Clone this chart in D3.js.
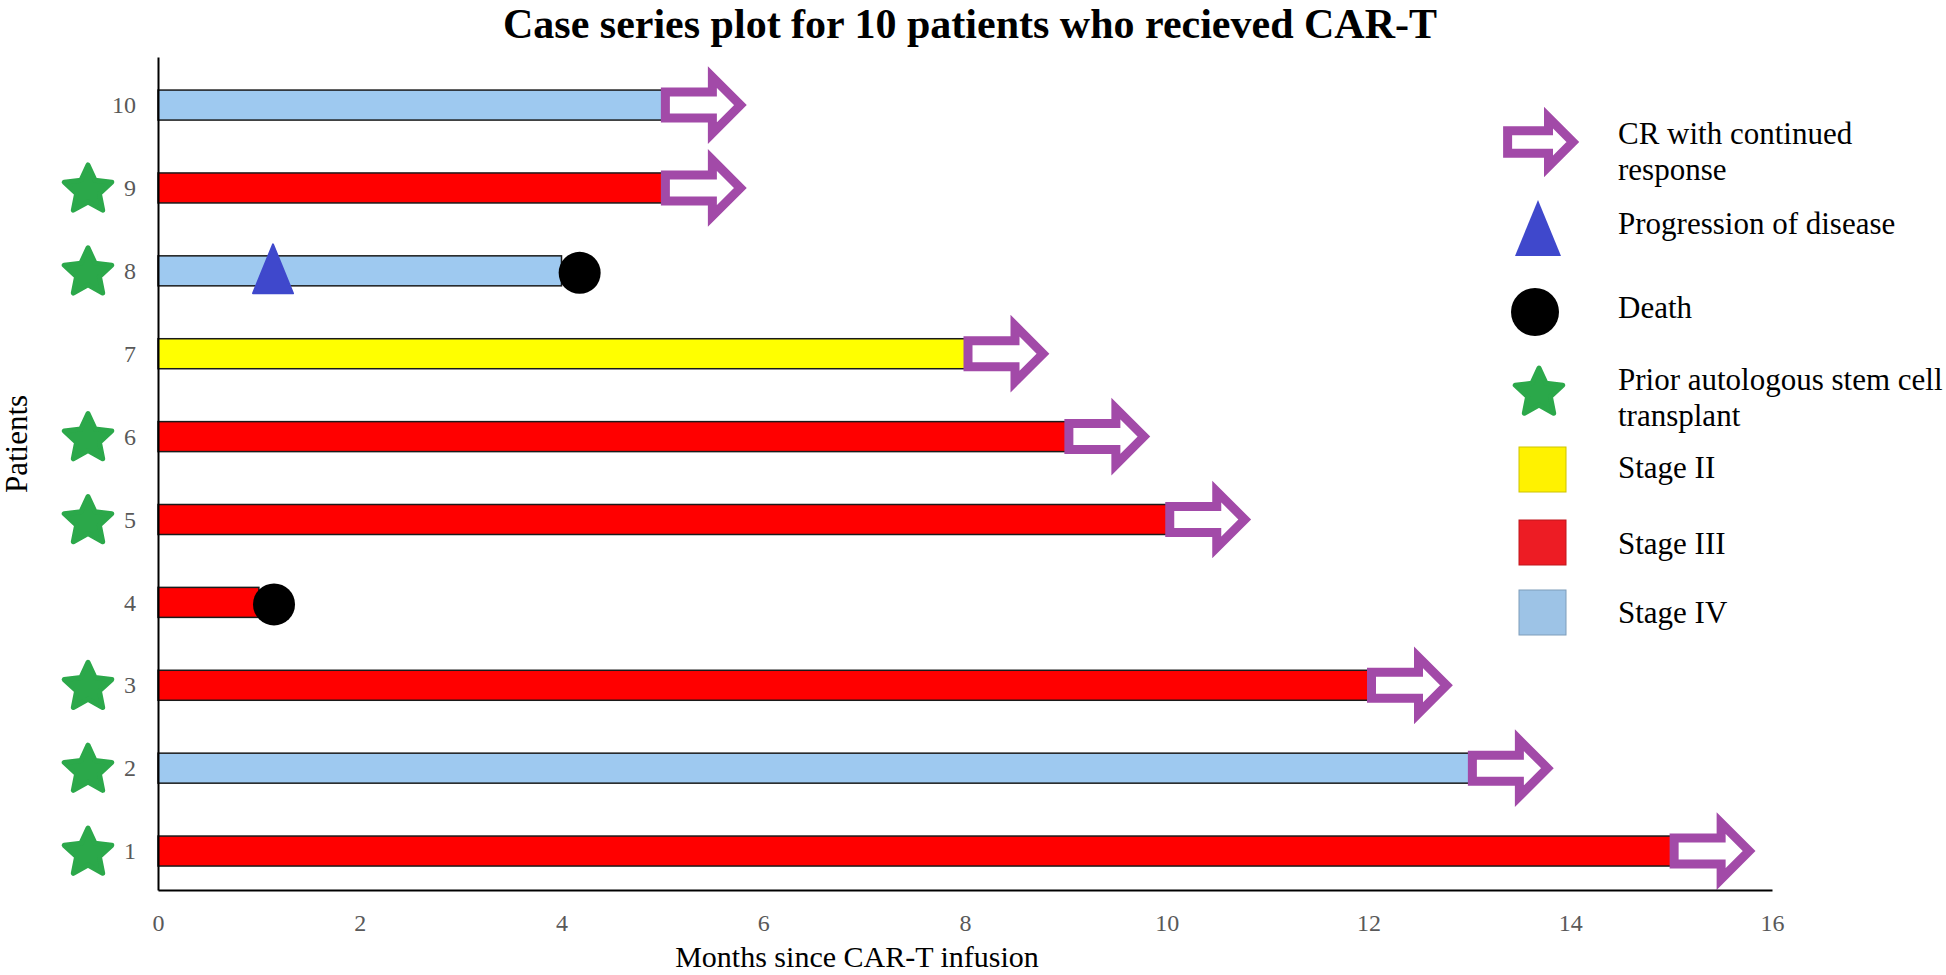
<!DOCTYPE html>
<html>
<head>
<meta charset="UTF-8" />
<script src="https://cdn.jsdelivr.net/npm/d3@7"></script>
<title>Case series plot</title>
<style>
    body { margin: 0; background: white; }
    svg { display: block; font-family: "Liberation Serif", "Times New Roman", serif; }
</style>
</head>
<body>
<div id="chart"></div>
<script>
// data, patient 1 first
const patients = [1, 2, 3, 4, 5, 6, 7, 8, 9, 10];
const months = [15, 13, 12, 1, 10, 9, 8, 4, 5, 5];
const stages = ["III", "IV", "III", "III", "III", "III", "II", "IV", "III", "IV"];
const continuedCR = [true, true, true, false, true, true, true, false, true, true];
const priorASCT = [true, true, true, false, true, true, false, true, true, false];
const deathPatients = [4, 8];
const deathMonths = [1.15, 4.18];
const progressionPatients = [8];
const progressionMonths = [1.14];
const xTicks = [0, 2, 4, 6, 8, 10, 12, 14, 16];
const legendLabels = [
    ["CR with continued", "response"],
    ["Progression of disease"],
    ["Death"],
    ["Prior autologous stem cell", "transplant"],
    ["Stage II"],
    ["Stage III"],
    ["Stage IV"]
];

const w = 1946, h = 975;
const stageColor = { "II": "#ffff00", "III": "#ff0000", "IV": "#9ec9f0" };
const legendStageColor = { "II": "#fff200", "III": "#ed1c24", "IV": "#9dc3e6" };
const purple = "#a24aa8", green = "#2ba84a", blue = "#3f48cc";

const svg = d3.select("#chart").append("svg").attr("width", w).attr("height", h);

const xScale = d3.scaleLinear().domain([0, 16]).range([158, 1772]);
const yScale = d3.scaleLinear().domain([0.53, 10.58]).range([890, 57]);
const barH = 30;

// arrow outline, drawn from the end of a bar
function arrowPath(k) {
    const p = d3.path();
    p.moveTo(3 * k, -13 * k);
    p.lineTo(50 * k, -13 * k);
    p.lineTo(50 * k, -28 * k);
    p.lineTo(78 * k, 0);
    p.lineTo(50 * k, 28 * k);
    p.lineTo(50 * k, 13 * k);
    p.lineTo(3 * k, 13 * k);
    p.closePath();
    return p.toString();
}
function starPath(ro, ri) {
    const pts = d3.range(10).map(i => {
        const a = -Math.PI / 2 + i * Math.PI / 5;
        const r = i % 2 ? ri : ro;
        return [r * Math.cos(a), r * Math.sin(a)];
    });
    return d3.line()(pts) + "Z";
}
function trianglePath(bw, th) {
    return d3.line()([[0, -th / 2], [bw / 2, th / 2], [-bw / 2, th / 2]]) + "Z";
}

const rows = patients.map((p, i) => ({
    p: p, m: months[i], stage: stages[i], cr: continuedCR[i], asct: priorASCT[i]
}));

// bars
svg.append("g").selectAll("rect").data(rows).enter().append("rect")
    .attr("x", xScale(0))
    .attr("y", d => yScale(d.p) - barH / 2)
    .attr("width", d => xScale(d.m) - xScale(0))
    .attr("height", barH)
    .attr("fill", d => stageColor[d.stage])
    .attr("stroke", "#1a1a1a")
    .attr("stroke-width", 1.5);

// arrows for continued response
svg.append("g").selectAll("path").data(rows.filter(d => d.cr)).enter().append("path")
    .attr("d", arrowPath(1))
    .attr("transform", d => "translate(" + xScale(d.m) + "," + yScale(d.p) + ")")
    .attr("fill", "white").attr("stroke", purple).attr("stroke-width", 9);

// progression
svg.append("g").selectAll("path").data(progressionPatients).enter().append("path")
    .attr("d", trianglePath(40, 49))
    .attr("transform", (d, i) => "translate(" + xScale(progressionMonths[i]) + "," + (yScale(d) - 2) + ")")
    .attr("fill", blue).attr("stroke", blue).attr("stroke-width", 2).attr("stroke-linejoin", "round");

// deaths
svg.append("g").selectAll("circle").data(deathPatients).enter().append("circle")
    .attr("cx", (d, i) => xScale(deathMonths[i]))
    .attr("cy", d => yScale(d) + 2)
    .attr("r", 21).attr("fill", "black");

// stars for prior transplant
svg.append("g").selectAll("path").data(rows.filter(d => d.asct)).enter().append("path")
    .attr("d", starPath(25, 12))
    .attr("transform", d => "translate(88," + (yScale(d.p) + 2) + ")")
    .attr("fill", green).attr("stroke", green).attr("stroke-width", 5).attr("stroke-linejoin", "round");

// axes
const xAxis = d3.axisBottom(xScale).tickValues(xTicks).tickSize(0).tickPadding(24).tickFormat(d3.format("d"));
const gx = svg.append("g").attr("transform", "translate(0," + yScale(0.53) + ")").call(xAxis)
    .attr("font-family", null).attr("font-size", 24);
gx.select(".domain").attr("stroke", "black").attr("stroke-width", 2);
gx.selectAll("text").attr("fill", "#595959");

const yAxis = d3.axisLeft(yScale).tickValues(patients).tickSize(0).tickPadding(22).tickFormat(d3.format("d"));
const gy = svg.append("g").attr("transform", "translate(" + xScale(0) + ",0)").call(yAxis)
    .attr("font-family", null).attr("font-size", 24);
gy.select(".domain").attr("stroke", "black").attr("stroke-width", 2);
gy.selectAll("text").attr("fill", "#595959");

// titles
svg.append("text").attr("x", 970).attr("y", 38).attr("text-anchor", "middle")
    .attr("font-size", 42).attr("font-weight", "bold")
    .text("Case series plot for 10 patients who recieved CAR-T");
svg.append("text").attr("x", 857).attr("y", 967).attr("text-anchor", "middle")
    .attr("font-size", 30)
    .text("Months since CAR-T infusion");
svg.append("text").attr("transform", "translate(27,444) rotate(-90)").attr("text-anchor", "middle")
    .attr("font-size", 31)
    .text("Patients");

// legend
const legendIconY = [142, 228, 312, 393, 470, 543, 613];
const legendTextY = [144, 234, 318, 390, 478, 554, 623];
const lg = svg.append("g");
lg.append("path").attr("d", arrowPath(0.87))
    .attr("transform", "translate(1505," + legendIconY[0] + ")")
    .attr("fill", "white").attr("stroke", purple).attr("stroke-width", 9);
lg.append("path").attr("d", trianglePath(46, 56))
    .attr("transform", "translate(1538," + legendIconY[1] + ")")
    .attr("fill", blue);
lg.append("circle").attr("cx", 1535).attr("cy", legendIconY[2]).attr("r", 24).attr("fill", "black");
lg.append("path").attr("d", starPath(25, 12))
    .attr("transform", "translate(1539," + legendIconY[3] + ")")
    .attr("fill", green).attr("stroke", green).attr("stroke-width", 5).attr("stroke-linejoin", "round");
["II", "III", "IV"].forEach((s, i) => {
    lg.append("rect").attr("x", 1519).attr("y", legendIconY[4 + i] - 23)
        .attr("width", 47).attr("height", 45)
        .attr("fill", legendStageColor[s])
        .attr("stroke", d3.color(legendStageColor[s]).darker(0.6)).attr("stroke-width", 1);
});
legendLabels.forEach((lines, i) => {
    const t = lg.append("text").attr("x", 1618).attr("y", legendTextY[i]).attr("font-size", 31);
    lines.forEach((l, j) => {
        t.append("tspan").attr("x", 1618).attr("dy", j ? 36 : 0).text(l);
    });
});
</script>
</body>
</html>
